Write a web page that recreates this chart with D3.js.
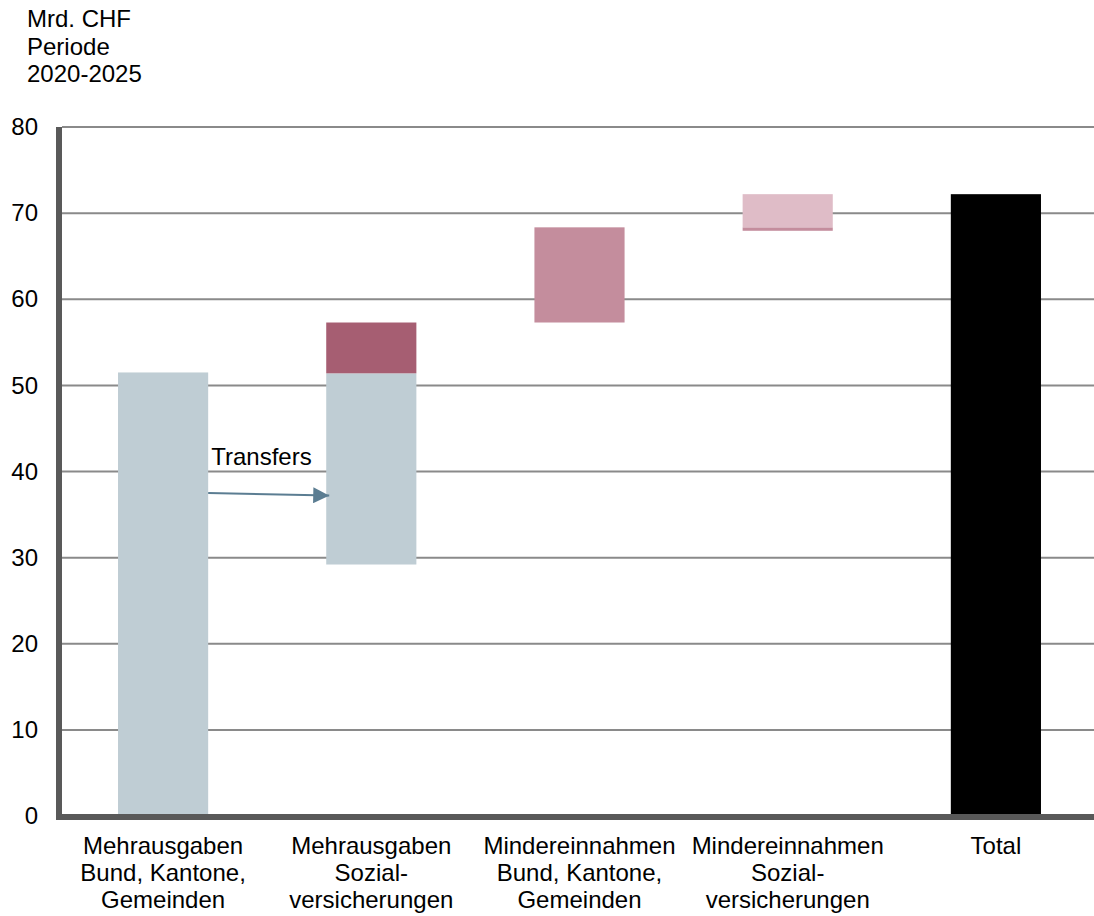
<!DOCTYPE html>
<html>
<head>
<meta charset="utf-8">
<script src="https://cdn.jsdelivr.net/npm/d3@7"></script>
<style>
  html, body { margin: 0; padding: 0; background: #fff; }
  svg { display: block; font-family: "Liberation Sans", Arial, sans-serif; }
</style>
</head>
<body>
<svg id="chart" width="1094" height="916"></svg>
<script>
// Categories (multi-line labels)
const categories = [
  ["Mehrausgaben", "Bund, Kantone,", "Gemeinden"],
  ["Mehrausgaben", "Sozial-", "versicherungen"],
  ["Mindereinnahmen", "Bund, Kantone,", "Gemeinden"],
  ["Mindereinnahmen", "Sozial-", "versicherungen"],
  ["Total"]
];

// Stacked waterfall segments: category index, start, end, colour key
const segCategory = [0, 1, 1, 2, 3, 3, 4];
const segStart    = [0, 29.2, 51.4, 57.3, 67.95, 68.35, 0];
const segEnd      = [51.5, 51.4, 57.3, 68.35, 68.35, 72.2, 72.2];
const segKind     = ["blue", "blue", "red", "pink", "pink", "lightpink", "total"];

const yTicks = [0, 10, 20, 30, 40, 50, 60, 70, 80];
const unitLines = ["Mrd. CHF", "Periode", "2020-2025"];

// Transfer arrow: from bar 1 to bar 2 (value levels)
const transferLabel = "Transfers";
const transferFrom = 37.5;
const transferTo = 37.2;

const colors = {
  blue: "#bfcdd4",
  red: "#a65e72",
  pink: "#c48d9d",
  lightpink: "#dfbcc7",
  total: "#000000"
};

const svg = d3.select("#chart");
const fontSize = 24;

const x = d3.scaleBand()
  .domain(d3.range(categories.length))
  .range([59, 1100])
  .paddingInner(0.567)
  .paddingOuter(0.2835);

const y = d3.scaleLinear().domain([0, 80]).range([816, 127]);

// Unit / period caption
svg.append("g").selectAll("text")
  .data(unitLines).join("text")
  .attr("x", 27)
  .attr("y", (d, i) => 27 + i * 27.5)
  .attr("font-size", fontSize)
  .attr("fill", "#000")
  .text(d => d);

// Horizontal gridlines
svg.append("g").selectAll("line")
  .data(yTicks.filter(t => t > 0)).join("line")
  .attr("x1", 62).attr("x2", 1094)
  .attr("y1", d => y(d)).attr("y2", d => y(d))
  .attr("stroke", "#8a8a8a")
  .attr("stroke-width", 2);

// Y tick labels via axis
const yAxis = svg.append("g")
  .attr("transform", "translate(40,0)")
  .call(d3.axisLeft(y).tickValues(yTicks).tickSize(0).tickPadding(2));
yAxis.select(".domain").remove();
yAxis.selectAll("text")
  .attr("font-size", fontSize)
  .attr("font-family", "Liberation Sans, Arial, sans-serif")
  .attr("fill", "#000");

// Bars
svg.append("g").selectAll("rect")
  .data(segCategory.map((c, i) => ({ c, s: segStart[i], e: segEnd[i], k: segKind[i] })))
  .join("rect")
  .attr("x", d => x(d.c))
  .attr("width", x.bandwidth())
  .attr("y", d => y(d.e))
  .attr("height", d => y(d.s) - y(d.e))
  .attr("fill", d => colors[d.k]);

// Axes lines (thick dark grey)
svg.append("line")
  .attr("x1", 59).attr("x2", 59)
  .attr("y1", y(80)).attr("y2", 820)
  .attr("stroke", "#595959").attr("stroke-width", 6);
svg.append("line")
  .attr("x1", 56).attr("x2", 1094)
  .attr("y1", 817).attr("y2", 817)
  .attr("stroke", "#595959").attr("stroke-width", 6);

// Category labels
const catG = svg.append("g").selectAll("text")
  .data(categories).join("text")
  .attr("x", (d, i) => x(i) + x.bandwidth() / 2)
  .attr("text-anchor", "middle")
  .attr("font-size", fontSize)
  .attr("fill", "#000");
catG.selectAll("tspan")
  .data(d => d).join("tspan")
  .attr("x", function () { return this.parentNode.getAttribute("x"); })
  .attr("y", (d, i) => 854 + i * 27)
  .text(d => d);

// Transfer arrow
const defs = svg.append("defs");
defs.append("marker")
  .attr("id", "arrowhead")
  .attr("viewBox", "0 0 10 10")
  .attr("refX", 10).attr("refY", 5)
  .attr("markerWidth", 8).attr("markerHeight", 8)
  .attr("markerUnits", "strokeWidth")
  .attr("orient", "auto")
  .append("path")
  .attr("d", "M0,0 L10,5 L0,10 Z")
  .attr("fill", "#5b7d92");

const ax1 = x(0) + x.bandwidth();
const ax2 = x(1) + 3;
svg.append("line")
  .attr("x1", ax1).attr("y1", y(transferFrom))
  .attr("x2", ax2).attr("y2", y(transferTo))
  .attr("stroke", "#5b7d92")
  .attr("stroke-width", 2)
  .attr("marker-end", "url(#arrowhead)");

svg.append("text")
  .attr("x", ax1 + 3)
  .attr("y", 465)
  .attr("font-size", fontSize)
  .attr("fill", "#000")
  .text(transferLabel);
</script>
</body>
</html>
